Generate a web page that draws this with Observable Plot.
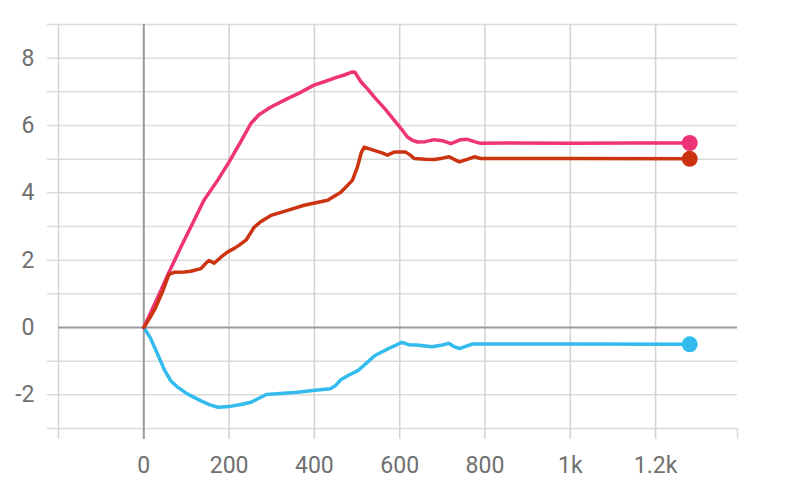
<!DOCTYPE html>
<html>
<head>
<meta charset="utf-8">
<script src="https://cdn.jsdelivr.net/npm/d3@7"></script>
<script src="https://cdn.jsdelivr.net/npm/@observablehq/plot@0.6"></script>
<style>
  html, body { margin: 0; padding: 0; background: #fff; }
  #chart svg { display: block; }
</style>
</head>
<body>
<div id="chart"></div>
<script>
// ---- data ----
const pinkSteps  = [0, 20, 40, 59, 87, 114, 141, 173, 200, 227, 251, 270, 298, 337, 370, 399, 423, 450, 470, 489, 495, 509, 525, 540, 565, 587, 605, 618, 630, 642, 660, 681, 700, 720, 743, 759, 775, 790, 850, 1000, 1150, 1280];
const pinkValues = [0, 0.55, 1.1, 1.64, 2.39, 3.08, 3.78, 4.37, 4.92, 5.51, 6.06, 6.32, 6.55, 6.80, 7.0, 7.20, 7.30, 7.42, 7.5, 7.59, 7.58, 7.30, 7.08, 6.85, 6.5, 6.16, 5.88, 5.66, 5.56, 5.51, 5.52, 5.58, 5.55, 5.46, 5.58, 5.59, 5.52, 5.47, 5.48, 5.47, 5.48, 5.48];

const redSteps  = [0, 15, 28, 45, 59, 71, 95, 110, 134, 145, 153, 165, 180, 196, 212, 223, 240, 259, 275, 298, 337, 376, 431, 462, 489, 501, 510, 517, 540, 560, 571, 587, 614, 625, 634, 660, 681, 700, 716, 730, 740, 760, 775, 790, 1000, 1280];
const redValues = [0, 0.3, 0.6, 1.1, 1.58, 1.64, 1.65, 1.67, 1.75, 1.9, 1.99, 1.91, 2.08, 2.24, 2.35, 2.44, 2.6, 2.98, 3.15, 3.33, 3.48, 3.63, 3.78, 4.02, 4.37, 4.77, 5.2, 5.36, 5.26, 5.18, 5.12, 5.21, 5.21, 5.12, 5.02, 5.0, 4.99, 5.03, 5.07, 4.98, 4.92, 5.0, 5.07, 5.02, 5.02, 5.01];

const cyanSteps  = [0, 15, 32, 48, 63, 80, 102, 134, 155, 174, 200, 230, 251, 270, 287, 320, 360, 396, 437, 450, 462, 480, 502, 520, 542, 573, 605, 621, 640, 660, 676, 700, 715, 728, 740, 755, 771, 800, 1000, 1280];
const cyanValues = [0, -0.3, -0.78, -1.25, -1.58, -1.78, -1.97, -2.18, -2.3, -2.37, -2.35, -2.28, -2.22, -2.1, -1.99, -1.96, -1.92, -1.87, -1.82, -1.72, -1.55, -1.42, -1.28, -1.08, -0.83, -0.63, -0.44, -0.51, -0.52, -0.55, -0.57, -0.52, -0.47, -0.57, -0.63, -0.56, -0.49, -0.49, -0.49, -0.5];

const seriesNames  = ["run_1", "run_2", "run_3"];
const seriesColors = ["#ee3377", "#cc3311", "#33bbee"];

const xTicks      = [0, 200, 400, 600, 800, 1000, 1200];
const xTickLabels = ["0", "200", "400", "600", "800", "1k", "1.2k"];
const xGrid       = [-200, 0, 200, 400, 600, 800, 1000, 1200];
const yTicks      = [-2, 0, 2, 4, 6, 8];
const yGrid       = [-3, -2, -1, 1, 2, 3, 4, 5, 6, 7, 8, 9];

// ---- build tables ----
const toRows = (steps, values, name) => steps.map((s, i) => ({step: s, value: values[i], series: name}));
const pinkRows = toRows(pinkSteps, pinkValues, seriesNames[0]);
const redRows  = toRows(redSteps, redValues, seriesNames[1]);
const cyanRows = toRows(cyanSteps, cyanValues, seriesNames[2]);
const lastPoints = [pinkRows, redRows, cyanRows].map(r => r[r.length - 1]);

const xMin = -200, xMax = 1392, yMin = -3, yMax = 9;
const gridColor = "#dcdcdc";
const textColor = "#707070";

const chart = Plot.plot({
  width: 804,
  height: 494,
  marginLeft: 58,
  marginRight: 67,
  marginTop: 24,
  marginBottom: 66,
  x: {domain: [xMin, xMax], axis: null},
  y: {domain: [yMin, yMax], axis: null},
  color: {domain: seriesNames, range: seriesColors},
  style: {fontFamily: "Roboto, sans-serif", background: "#fff", overflow: "visible"},
  marks: [
    // horizontal grid
    Plot.ruleY(yGrid, {y: d => d, x1: -226, x2: xMax, stroke: gridColor, strokeWidth: 1.5}),
    // vertical grid
    Plot.ruleX(xGrid.filter(d => d !== 0), {x: d => d, y1: -3.33, y2: yMax, stroke: "#d2d2d2", strokeWidth: 1.5}),
    // right end tick
    Plot.ruleX([xMax], {x: d => d, y1: -3.33, y2: yMin, stroke: gridColor, strokeWidth: 1.5}),
    // zero lines
    Plot.ruleY([0], {y: d => d, x1: -200, x2: xMax, stroke: "#9a9a9a", strokeWidth: 2}),
    Plot.ruleX([0], {x: d => d, y1: -3.33, y2: yMax, stroke: "#9a9a9a", strokeWidth: 2}),
    // series lines
    Plot.line(cyanRows, {x: "step", y: "value", stroke: "series", strokeWidth: 3.5, strokeLinejoin: "round"}),
    Plot.line(pinkRows, {x: "step", y: "value", stroke: "series", strokeWidth: 3.5, strokeLinejoin: "round"}),
    Plot.line(redRows,  {x: "step", y: "value", stroke: "series", strokeWidth: 3.5, strokeLinejoin: "round"}),
    // end dots
    Plot.dot(lastPoints, {x: "step", y: "value", fill: "series", r: 8}),
    // y tick labels
    Plot.text(yTicks, {x: xMin, y: d => d, text: d => String(d), dx: -24, textAnchor: "end", fontSize: 23, fill: textColor}),
    // x tick labels
    Plot.text(xTicks, {x: d => d, y: yMin, text: (d, i) => xTickLabels[i], dy: 37, fontSize: 23, fill: textColor})
  ]
});
document.getElementById("chart").appendChild(chart);
</script>
</body>
</html>
